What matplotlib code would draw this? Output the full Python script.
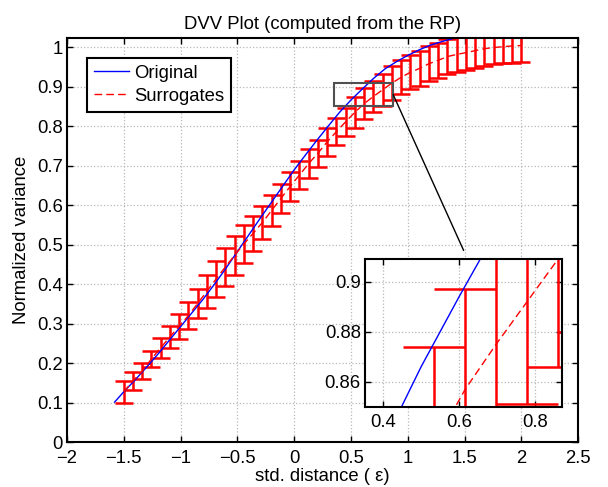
import numpy as np
import matplotlib
matplotlib.use("Agg")
import matplotlib.pyplot as plt
from matplotlib.patches import Rectangle, ConnectionPatch
from matplotlib.lines import Line2D

plt.rcParams['font.family'] = ['Liberation Sans', 'DejaVu Sans']
FS = 13.3
plt.rcParams['font.size'] = FS

# original series (blue)
orig_x = [-1.58, -1.5, -1.4, -1.3, -1.2, -1.1, -1.0, -0.9, -0.8, -0.7, -0.6, -0.5, -0.4, -0.3,
          -0.2, -0.1, 0.0, 0.1, 0.2, 0.3, 0.4, 0.5, 0.6, 0.7, 0.8, 0.9, 1.0, 1.1, 1.2, 1.3, 1.4, 1.5]
orig_y = [0.101, 0.127, 0.157, 0.189, 0.222, 0.257, 0.292, 0.327, 0.362, 0.400, 0.440, 0.482,
          0.524, 0.566, 0.607, 0.648, 0.689, 0.727, 0.764, 0.800, 0.835, 0.866, 0.894, 0.921,
          0.945, 0.963, 0.979, 0.993, 1.005, 1.014, 1.022, 1.029]

# surrogates (red), mean and error half-width
surr_x = [-1.5, -1.4186, -1.3372, -1.2558, -1.1744, -1.0930, -1.0116, -0.9302, -0.8488, -0.7674,
          -0.6860, -0.6047, -0.5233, -0.4419, -0.3605, -0.2791, -0.1977, -0.1163, -0.0349, 0.0465,
          0.1279, 0.2093, 0.2907, 0.3721, 0.4535, 0.5349, 0.6163, 0.6977, 0.7791, 0.8605,
          0.9419, 1.0233, 1.1047, 1.1860, 1.2674, 1.3488, 1.4302, 1.5116, 1.5930, 1.6744,
          1.7558, 1.8372, 1.9186, 2.0]
surr_mean = [0.127, 0.1545, 0.179, 0.2105, 0.2385, 0.2665, 0.293, 0.3205, 0.351, 0.382,
             0.413, 0.4435, 0.473, 0.5015, 0.5285, 0.556, 0.5865, 0.617, 0.647, 0.676,
             0.705, 0.7315, 0.760, 0.786, 0.811, 0.835, 0.857, 0.875, 0.892, 0.909,
             0.9235, 0.9365, 0.946, 0.958, 0.9665, 0.976, 0.9815, 0.986, 0.991, 0.996,
             0.999, 1.001, 1.003, 1.004]
surr_err = [0.027, 0.0225, 0.02, 0.0205, 0.0255, 0.0275, 0.031, 0.0345, 0.036, 0.042,
            0.045, 0.0485, 0.049, 0.0475, 0.0445, 0.042, 0.0385, 0.036, 0.036, 0.036,
            0.036, 0.0345, 0.036, 0.035, 0.036, 0.039, 0.040, 0.040, 0.041, 0.043,
            0.0435, 0.0435, 0.044, 0.0448, 0.0445, 0.044, 0.044, 0.044, 0.043, 0.043,
            0.042, 0.042, 0.042, 0.041]

zoom_xlim = (0.352, 0.872)
zoom_ylim = (0.85, 0.909)

dash = (0, (5.5, 3))


def style_axes(ax):
    ax.tick_params(direction='in', top=True, right=True, length=4, width=1, labelsize=FS)
    ax.tick_params(axis='x', pad=5.5)
    ax.tick_params(axis='y', pad=3)
    for s in ax.spines.values():
        s.set_linewidth(1.5)
    ax.grid(True, linestyle=':', color='#b8b8b8', linewidth=0.9)
    ax.set_axisbelow(True)


def draw_series(ax, capsize):
    ax.errorbar(surr_x, surr_mean, yerr=surr_err, color='red', linestyle=dash, linewidth=1,
                elinewidth=1.8, capsize=capsize, capthick=1.8)
    ax.plot(orig_x, orig_y, color='blue', linewidth=1)


fig = plt.figure(figsize=(6.08, 4.87), dpi=100)
ax = fig.add_axes([0.110, 0.0924, 0.841, 0.8287])
draw_series(ax, 6.5)
ax.set_xlim(-2, 2.5)
ax.set_ylim(0, 1.022)
ax.set_xticks(np.arange(-2, 2.51, 0.5))
ax.set_xticklabels(['\u22122', '\u22121.5', '\u22121', '\u22120.5', '0', '0.5', '1', '1.5', '2', '2.5'])
ax.set_yticks(np.arange(0, 1.01, 0.1))
ax.set_yticklabels(['0', '0.1', '0.2', '0.3', '0.4', '0.5', '0.6', '0.7', '0.8', '0.9', '1'])
style_axes(ax)
ax.set_title('DVV Plot (computed from the RP)', fontsize=FS, pad=7)
ax.set_xlabel('std. distance ( \u03b5)', labelpad=1)
ax.set_ylabel('Normalized variance', labelpad=5)

handles = [Line2D([], [], color='blue', linewidth=1),
           Line2D([], [], color='red', linewidth=1, linestyle=dash)]
leg = ax.legend(handles, ['Original', 'Surrogates'], loc='upper left', bbox_to_anchor=(0.04, 0.952),
                fancybox=False, edgecolor='black', framealpha=1, fontsize=FS,
                handlelength=1.9, borderaxespad=0, handletextpad=0.25, borderpad=0.38,
                labelspacing=0.32)
leg.get_frame().set_linewidth(1.5)

rect = Rectangle((zoom_xlim[0], zoom_ylim[0]), zoom_xlim[1] - zoom_xlim[0],
                 zoom_ylim[1] - zoom_ylim[0], fill=False, edgecolor='#505050', linewidth=1.5, zorder=5)
ax.add_patch(rect)

axin = fig.add_axes([0.6003, 0.1649, 0.3245, 0.3027])
draw_series(axin, 22)
axin.set_xlim(*zoom_xlim)
axin.set_ylim(*zoom_ylim)
axin.set_xticks([0.4, 0.6, 0.8])
axin.set_yticks([0.86, 0.88, 0.9])
axin.set_yticklabels(['0.86', '0.88', '0.9'])
style_axes(axin)

con = ConnectionPatch(xyA=(zoom_xlim[1], (zoom_ylim[0] + zoom_ylim[1]) / 2), coordsA=ax.transData,
                      xyB=(0.5, 1.06), coordsB=axin.transAxes, color='black', linewidth=1)
fig.add_artist(con)

fig.savefig('out.png', dpi=100)
